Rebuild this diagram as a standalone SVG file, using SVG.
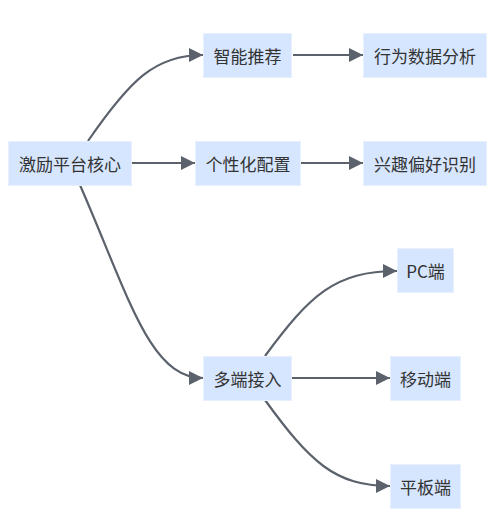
<svg xmlns="http://www.w3.org/2000/svg" width="500" height="521" viewBox="0 0 500 521">
<style>
.node rect{fill:#d6e6fe;stroke:#e8f0fe;stroke-width:1}
.node text{font-family:"Noto Sans CJK SC","Noto Sans",sans-serif;font-size:17px;fill:#333;text-anchor:middle;dominant-baseline:central}
.edge{fill:none;stroke:#5b626c;stroke-width:2.2}
</style>
<defs>
<marker id="arr" viewBox="0 0 10 10" refX="10" refY="5" markerUnits="userSpaceOnUse" markerWidth="16" markerHeight="14" orient="auto">
<path d="M0,0 L10,5 L0,10 z" fill="#5b626c"/>
</marker>
</defs>
<rect width="500" height="521" fill="#fff"/>
<g id="edges">
<path class="edge" d="M88,141 C130,80 155,55 203,55" marker-end="url(#arr)"/>
<path class="edge" d="M132,163 L195,163" marker-end="url(#arr)"/>
<path class="edge" d="M80,185 C130,300 150,378 203,378" marker-end="url(#arr)"/>
<path class="edge" d="M293,55 L363,55" marker-end="url(#arr)"/>
<path class="edge" d="M300,163 L363,163" marker-end="url(#arr)"/>
<path class="edge" d="M265,356 C310,295 335,271 397,271" marker-end="url(#arr)"/>
<path class="edge" d="M291,378 L390,378" marker-end="url(#arr)"/>
<path class="edge" d="M265,400 C310,462 335,486 390,486" marker-end="url(#arr)"/>
</g>
<g id="root" class="node"><rect x="8.5" y="141.5" width="123" height="44"/><text x="70" y="163.5">激励平台核心</text></g>
<g id="recommend" class="node"><rect x="203.5" y="33.5" width="88" height="44"/><text x="247.5" y="55.5">智能推荐</text></g>
<g id="analysis" class="node"><rect x="363.5" y="33.5" width="123" height="44"/><text x="425" y="55.5">行为数据分析</text></g>
<g id="config" class="node"><rect x="195.5" y="141.5" width="105" height="44"/><text x="248" y="163.5">个性化配置</text></g>
<g id="interest" class="node"><rect x="363.5" y="141.5" width="123" height="44"/><text x="425" y="163.5">兴趣偏好识别</text></g>
<g id="multi" class="node"><rect x="203.5" y="356.5" width="88" height="44"/><text x="247.5" y="378.5">多端接入</text></g>
<g id="pc" class="node"><rect x="397.5" y="248.5" width="56" height="44"/><text x="425.5" y="270.5">PC端</text></g>
<g id="mobile" class="node"><rect x="390.5" y="356.5" width="70" height="44"/><text x="425.5" y="378.5">移动端</text></g>
<g id="tablet" class="node"><rect x="390.5" y="464.5" width="70" height="44"/><text x="425.5" y="486.5">平板端</text></g>
</svg>
